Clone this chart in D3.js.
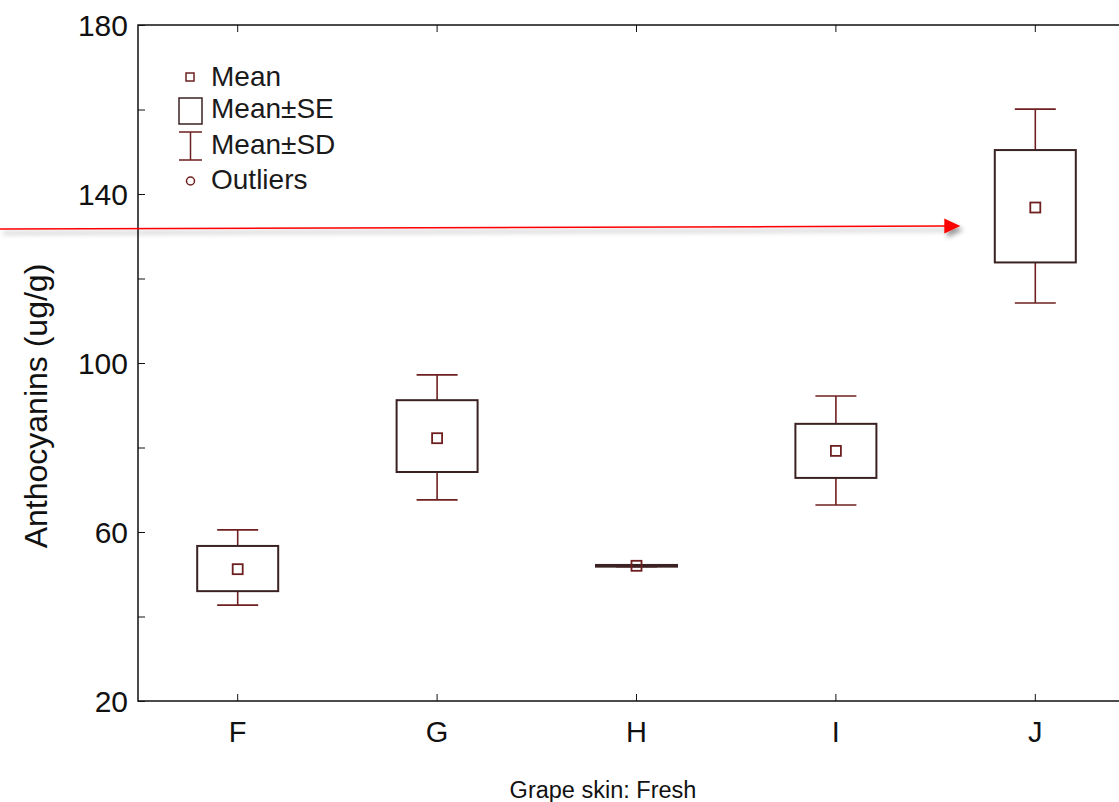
<!DOCTYPE html>
<html>
<head>
<meta charset="utf-8">
<script src="https://cdn.jsdelivr.net/npm/d3@7"></script>
<style>
  body { margin: 0; background: #fff; }
  svg { display: block; font-family: Arial, "Liberation Sans", sans-serif; }
</style>
</head>
<body>
<div id="chart"></div>
<script>
// data
const groups = ["F", "G", "H", "I", "J"];
const means  = [51.2, 82.2, 52.0, 79.2, 136.8];
const seLow  = [46.0, 74.2, 51.8, 72.8, 123.8];
const seHigh = [56.7, 91.2, 52.2, 85.6, 150.4];
const sdLow  = [42.7, 67.6, 51.8, 66.4, 114.2];
const sdHigh = [60.5, 97.2, 52.2, 92.2, 160.1];
const yTicks = [20, 60, 100, 140, 180];
const yMinor = [40, 80, 120, 160];
const arrowValue = 132.4;

const width = 1119, height = 802;
const margin = { top: 25, right: -16, bottom: 101, left: 138 };
const boxColor = "#3b2222";
const whiskColor = "#6e2020";

const svg = d3.select("#chart").append("svg")
  .attr("width", width)
  .attr("height", height);

const x = d3.scaleBand()
  .domain(groups)
  .range([margin.left, width - margin.right])
  .paddingInner(0).paddingOuter(0);

const y = d3.scaleLinear()
  .domain([20, 180])
  .range([height - margin.bottom, margin.top]);

const cx = g => x(g) + x.bandwidth() / 2;

// frame
svg.append("rect")
  .attr("x", margin.left).attr("y", margin.top)
  .attr("width", width - margin.right - margin.left)
  .attr("height", height - margin.bottom - margin.top)
  .attr("fill", "none").attr("stroke", "#111").attr("stroke-width", 1.5);

// axes (ticks pointing inward)
const tickLen = 7;
const yAxis = svg.append("g")
  .attr("transform", `translate(${margin.left},0)`)
  .call(d3.axisLeft(y).tickValues(d3.merge([yTicks, yMinor])).tickSize(-tickLen).tickPadding(10)
    .tickFormat(d => yTicks.includes(d) ? d : ""));
yAxis.select(".domain").remove();
yAxis.selectAll("text").attr("font-size", 30).attr("fill", "#111").attr("dy", "0.35em");
yAxis.selectAll("line").attr("stroke", "#111");

const xAxis = svg.append("g")
  .attr("transform", `translate(0,${height - margin.bottom})`)
  .call(d3.axisBottom(x).tickSize(-tickLen).tickPadding(16));
xAxis.select(".domain").remove();
xAxis.selectAll("text").attr("font-size", 29).attr("fill", "#111").attr("dy", "0.85em");
xAxis.selectAll("line").attr("stroke", "#111");

const topAxis = svg.append("g")
  .attr("transform", `translate(0,${margin.top})`)
  .call(d3.axisTop(x).tickSize(-tickLen).tickFormat(""));
topAxis.select(".domain").remove();
topAxis.selectAll("line").attr("stroke", "#111");

// boxes
const boxW = 81, capW = 41;
const rows = groups.map((g, i) => ({
  g, mean: means[i], lo: seLow[i], hi: seHigh[i], sdLo: sdLow[i], sdHi: sdHigh[i]
}));

const box = svg.append("g").selectAll("g").data(rows).join("g");

box.append("line")
  .attr("x1", d => cx(d.g)).attr("x2", d => cx(d.g))
  .attr("y1", d => y(d.sdHi)).attr("y2", d => y(d.sdLo))
  .attr("stroke", whiskColor).attr("stroke-width", 1.6);
box.selectAll(".cap").data(d => [[d.g, d.sdHi], [d.g, d.sdLo]]).join("line")
  .attr("x1", d => cx(d[0]) - capW / 2).attr("x2", d => cx(d[0]) + capW / 2)
  .attr("y1", d => y(d[1])).attr("y2", d => y(d[1]))
  .attr("stroke", whiskColor).attr("stroke-width", 1.6);
box.append("rect")
  .attr("x", d => cx(d.g) - boxW / 2)
  .attr("y", d => y(d.hi))
  .attr("width", boxW)
  .attr("height", d => Math.max(0.5, y(d.lo) - y(d.hi)))
  .attr("fill", "#fff").attr("stroke", boxColor).attr("stroke-width", 2);
box.append("rect")
  .attr("x", d => cx(d.g) - 5).attr("y", d => y(d.mean) - 5)
  .attr("width", 10).attr("height", 10)
  .attr("fill", "none").attr("stroke", whiskColor).attr("stroke-width", 1.8);

// legend
const legend = svg.append("g").attr("font-size", 28).attr("fill", "#1a1a1a");
const legItems = ["Mean", "Mean\u00b1SE", "Mean\u00b1SD", "Outliers"];
const legY = [76, 108, 144, 179];
legItems.forEach((t, i) => {
  legend.append("text").attr("x", 211).attr("y", legY[i]).attr("dy", "0.35em").text(t);
});
legend.append("rect").attr("x", 186).attr("y", 73).attr("width", 8).attr("height", 8)
  .attr("fill", "none").attr("stroke", whiskColor).attr("stroke-width", 1.5);
legend.append("rect").attr("x", 179).attr("y", 98).attr("width", 23).attr("height", 26)
  .attr("fill", "none").attr("stroke", boxColor).attr("stroke-width", 1.5);
legend.append("path").attr("d", "M179,132H202M190.5,132V160M179,160H202")
  .attr("fill", "none").attr("stroke", whiskColor).attr("stroke-width", 1.5);
legend.append("circle").attr("cx", 190.5).attr("cy", 181).attr("r", 4)
  .attr("fill", "none").attr("stroke", whiskColor).attr("stroke-width", 1.5);

// axis titles
svg.append("text")
  .attr("transform", `translate(47,406) rotate(-90)`)
  .attr("text-anchor", "middle").attr("font-size", 32).attr("fill", "#111")
  .text("Anthocyanins (ug/g)");
svg.append("text")
  .attr("x", 603).attr("y", 798)
  .attr("text-anchor", "middle").attr("font-size", 23.5).attr("fill", "#111")
  .text("Grape skin: Fresh");

// red annotation arrow
const defs = svg.append("defs");
const f = defs.append("filter").attr("id", "shadow").attr("x", "-10%").attr("y", "-50%")
  .attr("width", "130%").attr("height", "400%");
f.append("feDropShadow").attr("dx", 3).attr("dy", 4).attr("stdDeviation", 2.5)
  .attr("flood-color", "#000").attr("flood-opacity", 0.4);

const ay = y(arrowValue);
const tipX = cx("J") - 75;
const arrow = svg.append("g").attr("filter", "url(#shadow)");
arrow.append("line")
  .attr("x1", 0).attr("y1", ay + 3).attr("x2", tipX - 14).attr("y2", ay)
  .attr("stroke", "#ff0000").attr("stroke-width", 1.5);
arrow.append("path")
  .attr("d", `M${tipX},${ay}L${tipX - 16},${ay - 7.5}L${tipX - 16},${ay + 7.5}Z`)
  .attr("fill", "#ff0000");
</script>
</body>
</html>
